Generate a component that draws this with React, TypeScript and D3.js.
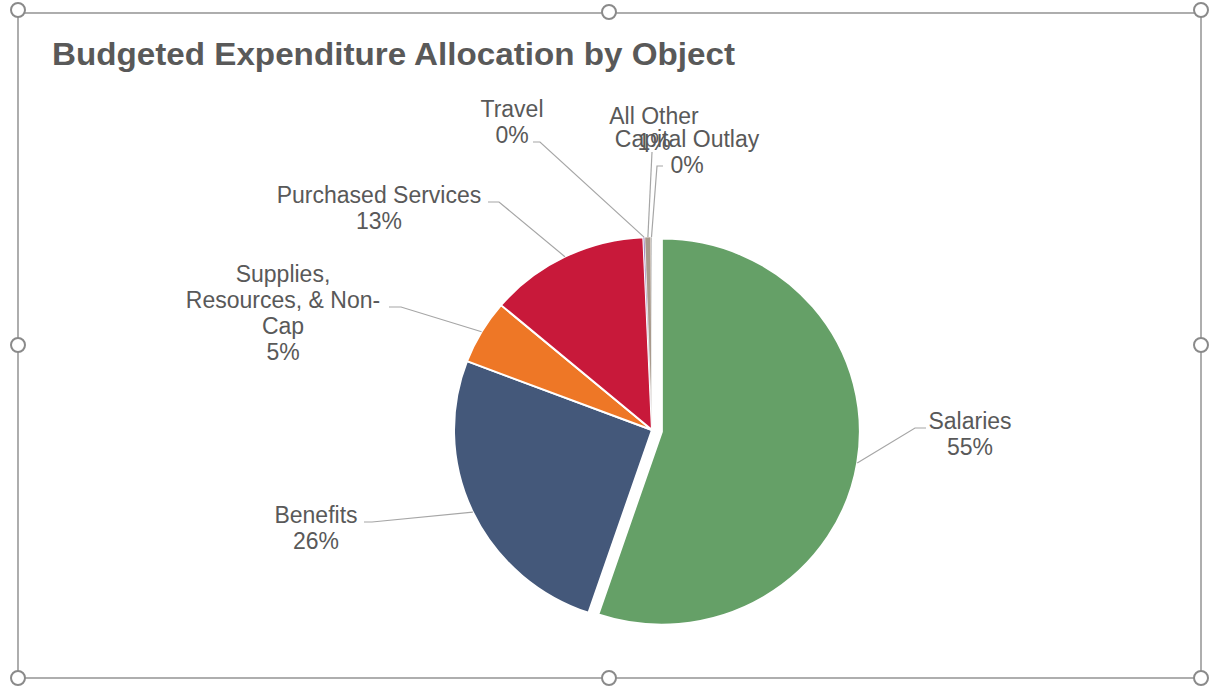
import React from "react";
import * as d3 from "d3";

const categories = [
  "Salaries",
  "Benefits",
  "Supplies, Resources, & Non-Cap",
  "Purchased Services",
  "Travel",
  "All Other",
  "Capital Outlay",
];
const values = [55.2, 25.6, 5.4, 13.1, 0.12, 0.5, 0.08];
const labelLines = [
  ["Salaries"],
  ["Benefits"],
  ["Supplies,", "Resources, & Non-", "Cap"],
  ["Purchased Services"],
  ["Travel"],
  ["All Other"],
  ["Capital Outlay"],
];
const percentLabels = ["55%", "26%", "5%", "13%", "0%", "1%", "0%"];
const colors = ["#65A067", "#44587A", "#EE7726", "#C8193A", "#6B3FA0", "#A89A8C", "#8C8C8C"];
const exploded = [10, 0, 0, 0, 0, 0, 0];

// label layout: text centre x, first baseline y, leader start & elbow
const labelLayout = [
  { x: 970, y: 429, start: [926, 428], elbow: [915, 428] },
  { x: 316, y: 523, start: [364, 522], elbow: [372, 522] },
  { x: 283, y: 282, start: [389, 307], elbow: [401, 307] },
  { x: 379, y: 203, start: [488, 202], elbow: [499, 202] },
  { x: 512, y: 117, start: [533, 142], elbow: [540, 142] },
  { x: 654, y: 124, start: [652, 152], elbow: [652, 152] },
  { x: 687, y: 147, start: [663, 166], elbow: [657, 166] },
];

const W = 1217;
const H = 687;
const cx = 652;
const cy = 430;
const R = 198;
const RY = 193;
const FONT = "'Liberation Sans', Arial, sans-serif";

export default function App() {
  const pie = d3.pie<number>().sort(null).value((d) => d)(values);
  const arc = d3.arc<d3.PieArcDatum<number>>().innerRadius(0).outerRadius(R);
  const sy = RY / R;

  const offset = (p: d3.PieArcDatum<number>, i: number) => {
    const mid = (p.startAngle + p.endAngle) / 2;
    return [exploded[i] * Math.sin(mid), -exploded[i] * Math.cos(mid) * sy];
  };
  const edgePoint = (p: d3.PieArcDatum<number>, i: number) => {
    const mid = (p.startAngle + p.endAngle) / 2;
    const [ox, oy] = offset(p, i);
    return [cx + ox + R * Math.sin(mid), cy + oy - RY * Math.cos(mid)];
  };

  const handles = [
    [18, 10], [609, 12], [1201, 10],
    [18, 345], [1201, 345],
    [18, 678], [609, 678], [1201, 678],
  ];

  return (
    <svg width={W} height={H} style={{ position: "absolute", left: 0, top: 0, background: "#fff" }}>
      <rect x={0} y={0} width={W} height={H} fill="#fff" />
      <rect x={18} y={13} width={1183} height={665} fill="#fff" stroke="#9a9a9a" strokeWidth={1.6} />
      <text x={52} y={65} fontFamily={FONT} fontWeight="bold" fontSize={31} fill="#595959" textLength={683} lengthAdjust="spacingAndGlyphs">
        Budgeted Expenditure Allocation by Object
      </text>
      {pie.map((p, i) => {
        const [ox, oy] = offset(p, i);
        return (
          <g key={categories[i]} transform={`translate(${cx + ox},${cy + oy}) scale(1,${sy})`}>
            <path d={arc(p) || ""} fill={colors[i]} stroke="#fff" strokeWidth={values[i] < 1 ? 0.6 : 2} strokeLinejoin="round" />
          </g>
        );
      })}
      {pie.map((p, i) => {
        const L = labelLayout[i];
        const e = edgePoint(p, i);
        const pts = [L.start, L.elbow, e];
        return (
          <polyline key={"l" + i} points={pts.map((q) => q.join(",")).join(" ")} fill="none" stroke="#a6a6a6" strokeWidth={1.2} />
        );
      })}
      {pie.map((p, i) => {
        const L = labelLayout[i];
        const lines = [...labelLines[i], percentLabels[i]];
        return (
          <text key={"t" + i} fontFamily={FONT} fontSize={23} fill="#595959" textAnchor="middle">
            {lines.map((s, j) => (
              <tspan key={j} x={L.x} y={L.y + j * 26}>{s}</tspan>
            ))}
          </text>
        );
      })}
      {handles.map(([x, y], i) => (
        <circle key={"h" + i} cx={x} cy={y} r={7} fill="#fff" stroke="#8a8a8a" strokeWidth={2} />
      ))}
    </svg>
  );
}
